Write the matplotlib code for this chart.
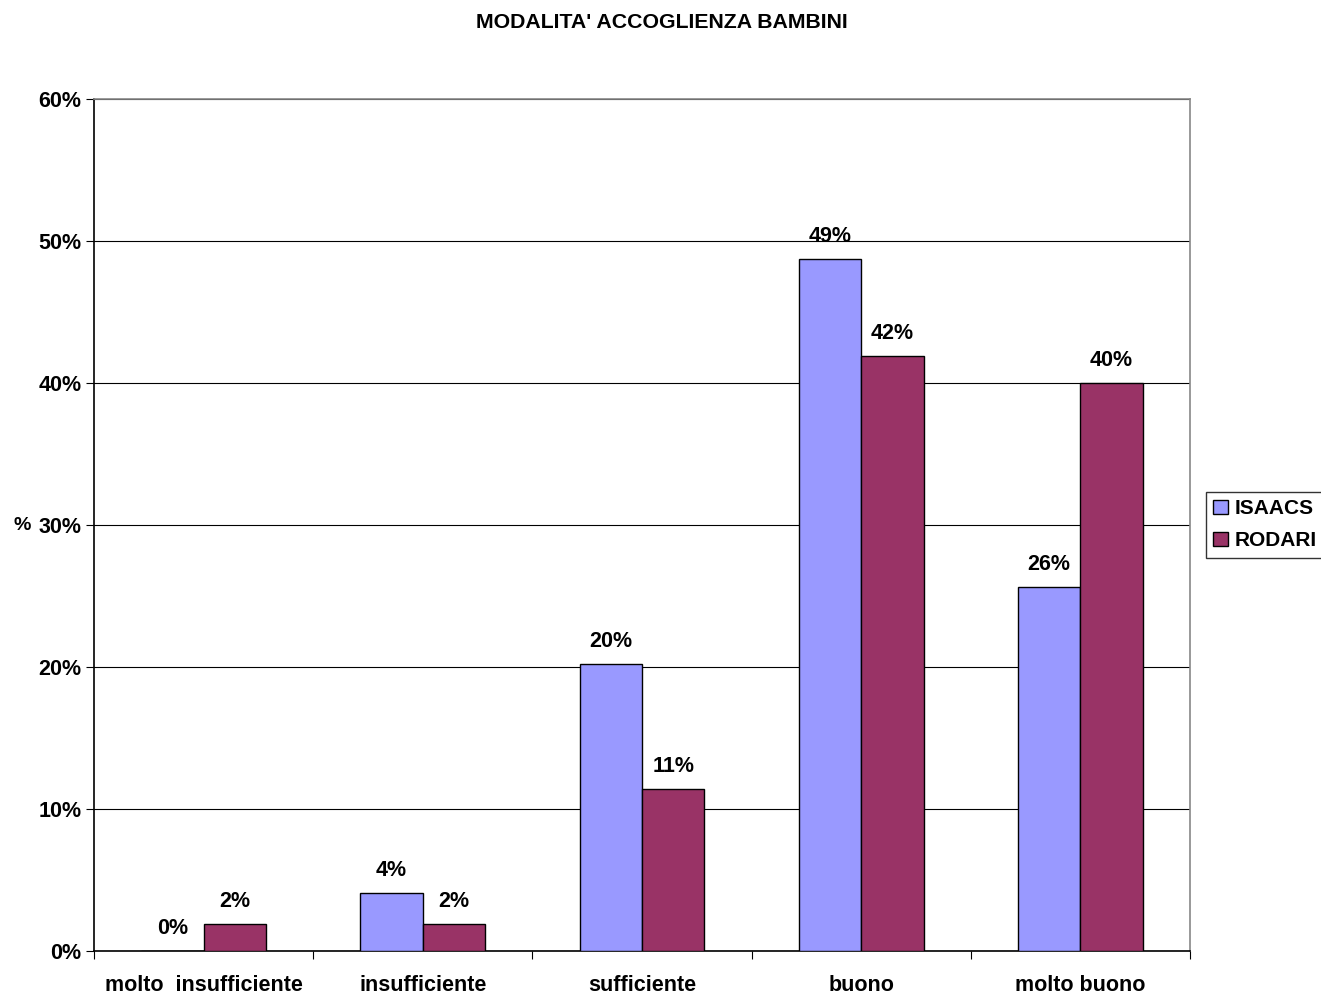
import matplotlib
matplotlib.use("Agg")
import matplotlib.pyplot as plt
import numpy as np

categories = ["molto  insufficiente", "insufficiente", "sufficiente", "buono", "molto buono"]
isaacs = [0.0, 4.1, 20.2, 48.7, 25.6]
rodari = [1.9, 1.9, 11.4, 41.9, 40.0]
isaacs_labels = ["0%", "4%", "20%", "49%", "26%"]
rodari_labels = ["2%", "2%", "11%", "42%", "40%"]
yticks = [0, 10, 20, 30, 40, 50, 60]

plt.rcParams['font.family'] = ['Liberation Sans', 'DejaVu Sans']
plt.rcParams['font.weight'] = 'bold'

fig = plt.figure(figsize=(13.21, 9.97), dpi=100)
ax = fig.add_axes([94/1321, 46/997, 1096/1321, 852/997])

x = np.arange(len(categories))
w = 0.285
ax.bar(x - w/2, isaacs, w, color="#9999FF", edgecolor="black", linewidth=1, label="ISAACS", zorder=3)
ax.bar(x + w/2, rodari, w, color="#993366", edgecolor="black", linewidth=1, label="RODARI", zorder=3)

for xi, v, lab in zip(x - w/2, isaacs, isaacs_labels):
    ax.text(xi, v + 0.85, lab, ha="center", va="bottom", fontsize=15.5, fontweight="bold")
for xi, v, lab in zip(x + w/2, rodari, rodari_labels):
    ax.text(xi, v + 0.85, lab, ha="center", va="bottom", fontsize=15.5, fontweight="bold")

ax.set_xlim(-0.5, len(categories) - 0.5)
ax.set_ylim(0, 60)
ax.set_yticks(yticks)
ax.set_yticklabels([f"{t}%" for t in yticks], fontsize=15.5, fontweight="bold")
ax.yaxis.grid(True, color="black", linewidth=0.8, zorder=0)
ax.set_axisbelow(True)

ax.set_xticks(np.arange(-0.5, len(categories), 1.0))
ax.set_xticklabels([])
ax.set_xticks(x, minor=True)
ax.set_xticklabels(categories, minor=True, fontsize=15.5, fontweight="bold")
ax.tick_params(axis="x", which="minor", length=0, pad=17)
ax.tick_params(axis="x", which="major", length=6, direction="out", color="black")
ax.tick_params(axis="y", length=6, direction="out", pad=3)

ax.spines["left"].set_color("black")
ax.spines["bottom"].set_color("black")
ax.spines["top"].set_color("#888888")
ax.spines["right"].set_color("#888888")
for s in ax.spines.values():
    s.set_linewidth(1.2)

fig.text(22/1321, 1 - 525/997, "%", ha="center", va="center", fontsize=14, fontweight="bold")
fig.text(662/1321, 1 - 22/997, "MODALITA' ACCOGLIENZA BAMBINI", ha="center", va="center",
         fontsize=15.3, fontweight="bold")

leg = ax.legend(loc="upper left", bbox_to_anchor=(1206/1321, 1 - 492/997), bbox_transform=fig.transFigure,
                frameon=True, fancybox=False, edgecolor="black", fontsize=15, handlelength=0.7,
                handleheight=0.7, handletextpad=0.3, borderpad=0.35, labelspacing=0.62, borderaxespad=0)
leg.get_frame().set_linewidth(1.0)
for t in leg.get_texts():
    t.set_fontweight("bold")

fig.savefig("out.png", dpi=100)
